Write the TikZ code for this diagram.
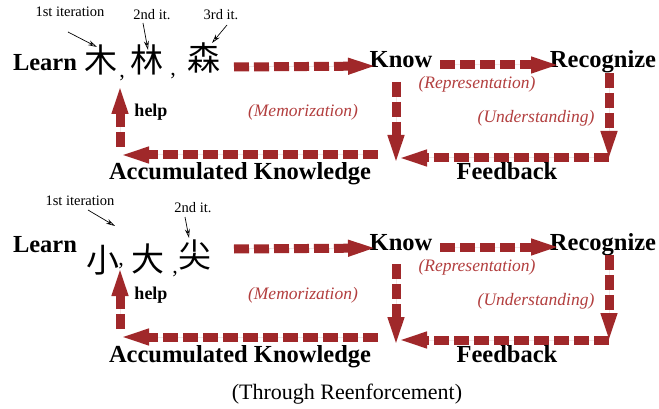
\documentclass[tikz,border=0pt]{standalone}
\usepackage{fontspec}
\setmainfont{Liberation Serif}
\newfontfamily\cjkfont{Noto Sans CJK SC}
\usetikzlibrary{arrows.meta}
\definecolor{arrowred}{RGB}{160,40,42}
\definecolor{labelred}{RGB}{178,62,62}
\begin{document}
\begin{tikzpicture}[x=1pt,y=-1pt,
  big/.style={font=\fontsize{24.5}{26}\selectfont\bfseries, inner sep=0pt, anchor=base},
  italab/.style={font=\fontsize{17.5}{19}\selectfont\itshape, text=labelred, inner sep=0pt, anchor=base},
  smalllab/.style={font=\fontsize{14.5}{16}\selectfont, inner sep=0pt, anchor=base},
  helplab/.style={font=\fontsize{18}{20}\selectfont\bfseries, inner sep=0pt, anchor=base},
  han/.style={font=\fontsize{33}{35}\selectfont\cjkfont, inner sep=0pt},
  comma/.style={font=\fontsize{22}{24}\selectfont, inner sep=0pt},
  flow/.style={draw=arrowred, fill=arrowred, line width=9pt, dash pattern=on 15pt off 5pt, -{Triangle[length=32pt,width=14pt]}},
  pointer/.style={-{Stealth[length=9pt,width=5pt,open]}, line width=0.7pt}
]
\useasboundingbox (0,0) rectangle (659,409);

\foreach \p/\dy in {t/0,b/182}{
  \node[big] (\p-learn) at (45,70.7+\dy) {Learn};
  \node[big] (\p-know) at (401,68+\dy) {Know};
  \node[big] (\p-recog) at (603,68+\dy) {Recognize};
  \node[big] (\p-feed) at (507,180+\dy) {Feedback};
  \node[big] (\p-acc) at (240,180+\dy) {Accumulated Knowledge};
  \node[helplab] (\p-help) at (151,117+\dy) {help};
  \node[italab] (\p-mem) at (303,117+\dy) {(Memorization)};
  \node[italab] (\p-rep) at (477,89+\dy) {(Representation)};
  \node[italab] (\p-und) at (536,123+\dy) {(Understanding)};

  \coordinate (\p-a0) at (234,67+\dy);  \coordinate (\p-a1) at (380,66+\dy);
  \coordinate (\p-b0) at (440,65+\dy);  \coordinate (\p-b1) at (563,65+\dy);
  \coordinate (\p-c0) at (609,73+\dy);  \coordinate (\p-c1) at (609,163+\dy);
  \coordinate (\p-d0) at (609,158+\dy); \coordinate (\p-d1) at (395,158+\dy);
  \coordinate (\p-e0) at (396,82+\dy);  \coordinate (\p-e1) at (396,167+\dy);
  \coordinate (\p-f0) at (378,155+\dy); \coordinate (\p-f1) at (117,155+\dy);
  \coordinate (\p-g0) at (120,147+\dy); \coordinate (\p-g1) at (120,82+\dy);

  \draw[flow] (\p-a0) -- (\p-a1);
  \draw[flow] (\p-b0) -- (\p-b1);
  \draw[flow] (\p-c0) -- (\p-c1);
  \draw[flow] (\p-d0) -- (\p-d1);
  \draw[flow] (\p-e0) -- (\p-e1);
  \draw[flow] (\p-f0) -- (\p-f1);
  \draw[flow] (\p-g0) -- (\p-g1);
}

% top row characters
\node[han] (h1) at (101,60) {木};
\node[comma] (k1) at (122,78) {,};
\node[han] (h2) at (147,60) {林};
\node[comma] (k2) at (173,76) {,};
\node[han] (h3) at (204,58) {森};
\node[smalllab] (l1) at (70,17) {1st iteration};
\node[smalllab] (l2) at (152,20) {2nd it.};
\node[smalllab] (l3) at (221,20) {3rd it.};
\coordinate (q1) at (68,32);  \coordinate (p1) at (97,47);
\coordinate (q2) at (143,23); \coordinate (p2) at (148,50);
\coordinate (q3) at (227,25); \coordinate (p3) at (212,43);
\draw[pointer] (q1) -- (p1);
\draw[pointer] (q2) -- (p2);
\draw[pointer] (q3) -- (p3);

% bottom row characters
\node[han] (h4) at (103,260) {小};
\node[comma] (k3) at (121,266) {,};
\node[han] (h5) at (148,259) {大};
\node[comma] (k4) at (175,274) {,};
\node[han] (h6) at (195,255) {尖};
\node[smalllab] (l4) at (80,205) {1st iteration};
\node[smalllab] (l5) at (193,212) {2nd it.};
\coordinate (q4) at (88,210);  \coordinate (p4) at (115,226);
\coordinate (q5) at (185,217); \coordinate (p5) at (189,238);
\draw[pointer] (q4) -- (p4);
\draw[pointer] (q5) -- (p5);

\node[font=\fontsize{22}{24}\selectfont, inner sep=0pt, anchor=base] (cap) at (347,399) {(Through Reenforcement)};
\end{tikzpicture}
\end{document}
